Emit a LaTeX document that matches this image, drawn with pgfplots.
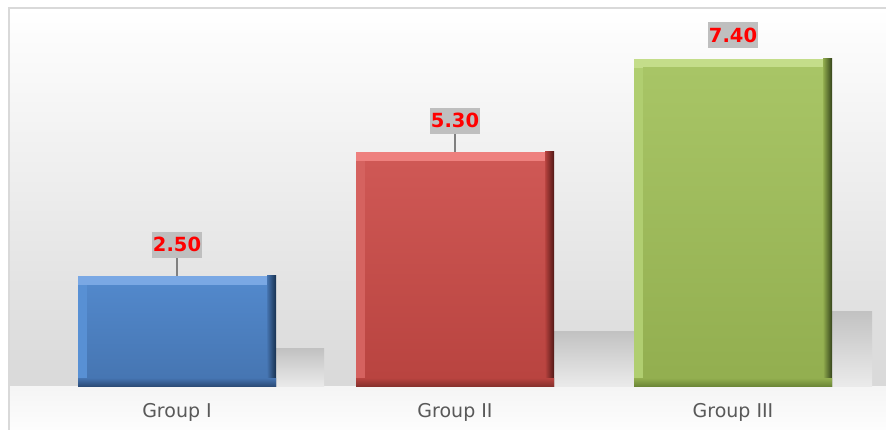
\documentclass[border=0pt]{standalone}
\usepackage{pgfplots}
\pgfplotsset{compat=1.18}
\usepackage{fontspec}
\setmainfont{DejaVu Sans}

\definecolor{blueR}{HTML}{17304F}
\definecolor{blueT}{HTML}{7AA8E4}
\definecolor{blueL}{HTML}{5890D4}
\definecolor{blueMa}{HTML}{5288CB}
\definecolor{blueMb}{HTML}{4574B0}
\definecolor{blueB}{HTML}{2A4A75}
\definecolor{redR}{HTML}{521816}
\definecolor{redT}{HTML}{EE807E}
\definecolor{redL}{HTML}{D5625F}
\definecolor{redMa}{HTML}{CF5855}
\definecolor{redMb}{HTML}{B8433F}
\definecolor{redB}{HTML}{85302C}
\definecolor{greenR}{HTML}{34431A}
\definecolor{greenT}{HTML}{C4DD8A}
\definecolor{greenL}{HTML}{B0CE70}
\definecolor{greenMa}{HTML}{A8C566}
\definecolor{greenMb}{HTML}{92AE4F}
\definecolor{greenB}{HTML}{6A8535}

% bevelled bar: x, value, colour prefix
\newcommand{\bevelbar}[3]{%
  \addplot[ybar, bar width=198pt, bar shift=0pt, fill=#3R, draw=none] coordinates {(#1,#2)};
  \addplot[ybar, bar width=9pt, bar shift=94.5pt, left color=#3Mb, right color=#3R, draw=none] coordinates {(#1,#2)};
  \addplot[ybar, bar width=189pt, bar shift=-4.5pt, fill=#3T, draw=none] coordinates {(#1,#2)};
  \addplot[ybar, bar width=189pt, bar shift=-4.5pt, fill=#3L, draw=none, y filter/.expression={y-0.21}] coordinates {(#1,#2)};
  \addplot[ybar, bar width=180pt, bar shift=0pt, top color=#3Ma, bottom color=#3Mb, draw=none, y filter/.expression={y-0.21}] coordinates {(#1,#2)};
  \addplot[ybar, bar width=198pt, bar shift=0pt, top color=#3Mb, bottom color=#3B, draw=none] coordinates {(#1,0.19)};
}
% shadow: x, height, width
\newcommand{\shadowbar}[3]{%
  \addplot[ybar, bar width=#3, bar shift=99pt+0.5*#3, top color=black!24, middle color=black!34, bottom color=black!8, draw=none] coordinates {(#1,#2)};
}
% value label: x, value, leader length, offset
\newcommand{\vlabel}[4]{%
  \addplot[ybar, bar width=1pt, bar shift=0pt, draw=none, fill=none,
    nodes near coords,
    every node near coord/.append style={anchor=south, yshift=#4, fill=black!25, text=red,
      font=\bfseries\fontsize{19.5}{22}\selectfont, inner xsep=1pt, inner ysep=6pt,
      text height=14pt, text depth=0pt,
      /pgf/number format/.cd, fixed, fixed zerofill, precision=2, assume math mode=true},
    error bars/.cd, y dir=plus, y explicit, error mark=none,
      error bar style={black!50, line width=1.5pt}]
    coordinates {(#1,#2) +- (0,#3)};
}

\begin{document}
\begin{tikzpicture}
\useasboundingbox (0,0) rectangle (886pt,430pt);
\clip (0,0) rectangle (886pt,430pt);
% chart background
\fill[white] (9pt,-10pt) rectangle (900pt,422pt);
\shade[top color=white, bottom color=black!15] (9pt,43.5pt) rectangle (900pt,422pt);
\shade[top color=black!4, bottom color=white] (9pt,-10pt) rectangle (900pt,43.5pt);
\draw[black!15, line width=1.2pt] (9pt,-10pt) rectangle (900pt,422pt);

\begin{axis}[
  at={(38pt,43.5pt)}, anchor=south west,
  scale only axis, width=834pt, height=376.55pt,
  xmin=-0.5, xmax=2.5, ymin=0, ymax=8.5,
  axis line style={draw=none},
  ytick=\empty,
  xtick={0,1,2},
  xticklabels={Group I,Group II,Group III},
  major tick length=0pt,
  xticklabel style={anchor=base, yshift=-31.5pt, text=black!65,
    font=\fontsize{19}{22}\selectfont},
]
\shadowbar{0}{0.85}{48pt}
\shadowbar{1}{1.25}{80pt}
\shadowbar{2}{1.7}{45pt}

\bevelbar{0}{2.50}{blue}
\bevelbar{1}{5.30}{red}
\bevelbar{2}{7.40}{green}

\vlabel{0}{2.50}{0.406}{18pt}
\vlabel{1}{5.30}{0.406}{18pt}
\vlabel{2}{7.40}{0}{10pt}
\end{axis}
\end{tikzpicture}
\end{document}
